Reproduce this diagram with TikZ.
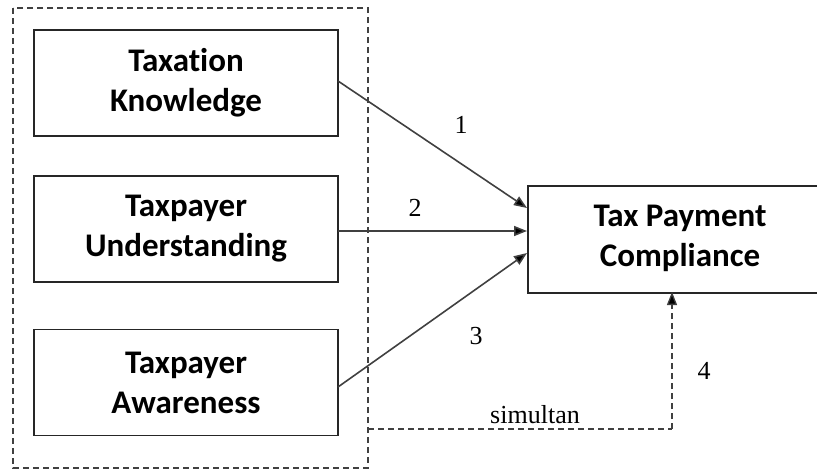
\documentclass[tikz,border=0pt]{standalone}
\usepackage{fontspec}
\setmainfont{Liberation Serif}
\newfontfamily\boxfont[Ligatures=NoCommon]{Carlito}
\usetikzlibrary{arrows.meta}
\begin{document}
\begin{tikzpicture}[x=1pt,y=-1pt,
  boxtext/.style={font=\boxfont\bfseries\fontsize{33}{40}\selectfont, align=center},
  varbox/.style={draw=black!85, line width=1.5pt, minimum width=304pt, minimum height=106pt, inner sep=0pt, boxtext},
  lab/.style={font=\fontsize{26}{30}\selectfont, inner sep=0pt},
  arr/.style={draw=black!75, line width=1.6pt, -{Triangle[length=13pt,width=10pt,fill=black]}},
  dsh/.style={draw=black!75, line width=1.3pt, dash pattern=on 6pt off 4pt}]
\useasboundingbox (0,0) rectangle (817,471);
\draw[dsh] (13,8) rectangle (368,468);
\node[varbox] (k) at (186,83) {Taxation\\Knowledge};
\node[varbox] (u) at (186,229) {Taxpayer\\Understanding};
\node[varbox] (a) at (186,382.5) {Taxpayer\\Awareness};
\node[varbox, minimum width=300pt, anchor=north west, minimum height=107pt] (c) at (527,185) {};
\node[boxtext] (ct) at (680,238) {Tax Payment\\Compliance};
\coordinate (k1) at (338,81);
\coordinate (c1) at (527,208);
\coordinate (u1) at (338,231);
\coordinate (c2) at (527,231);
\coordinate (a1) at (338,387);
\coordinate (c3) at (527,253);
\draw[arr] (k1) -- (c1);
\draw[arr] (u1) -- (c2);
\draw[arr] (a1) -- (c3);
\coordinate (s0) at (368,429);
\coordinate (s1) at (672,429);
\coordinate (s2) at (672,292);
\draw[dsh] (s0) -- (s1);
\draw[dsh, -{Triangle[length=13pt,width=10pt,fill=black]}] (s1) -- (s2);
\node[lab] (l1) at (461,125) {1};
\node[lab] (l2) at (415,208) {2};
\node[lab] (l3) at (476,336) {3};
\node[lab] (l4) at (704,371) {4};
\node[lab] (ls) at (535,415) {simultan};
\end{tikzpicture}
\end{document}
